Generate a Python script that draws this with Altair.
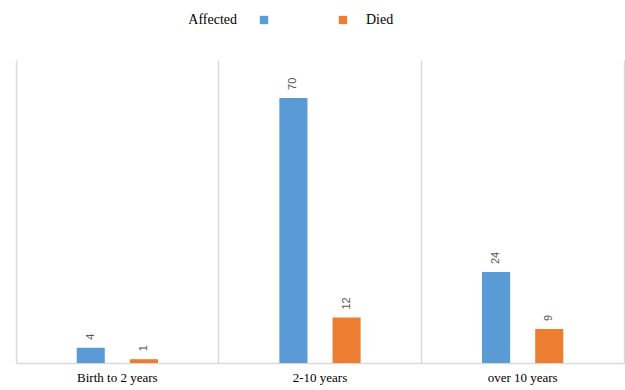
import altair as alt
import pandas as pd

# Age groups and the two counted series
categories = ["Birth to 2 years", "2-10 years", "over 10 years"]
series = ["Affected", "Died"]
affected = [4, 70, 24]
died = [1, 12, 9]

rows = []
for cat, a, d in zip(categories, affected, died):
    rows.append({"category": cat, "series": "Affected", "value": a})
    rows.append({"category": cat, "series": "Died", "value": d})
df = pd.DataFrame(rows)

blue = "#5b9bd5"
orange = "#ed7d31"
line_gray = "#d9d9d9"
serif = "Liberation Serif"

x_enc = alt.X(
    "category:N",
    sort=categories,
    scale=alt.Scale(paddingInner=0, paddingOuter=0),
    axis=alt.Axis(
        title=None,
        labelAngle=0,
        ticks=False,
        grid=True,
        gridColor=line_gray,
        gridWidth=1.5,
        bandPosition=0,
        domainColor=line_gray,
        domainWidth=1.5,
        labelFont=serif,
        labelFontSize=13,
        labelColor="#000000",
        labelPadding=8,
    ),
)
# empty slots on either side keep the pair of bars near the middle of each group
xoff_enc = alt.XOffset(
    "series:N",
    scale=alt.Scale(
        domain=["lead"] + series + ["trail"],
        paddingInner=0.4717,
        paddingOuter=0.141,
    ),
)
y_enc = alt.Y(
    "value:Q",
    scale=alt.Scale(domain=[0, 80]),
    axis=alt.Axis(
        orient="right",
        title=None,
        labels=False,
        ticks=False,
        grid=False,
        domainColor=line_gray,
        domainWidth=1.5,
    ),
)


def legend_for(x, label_offset, label_align):
    return alt.Legend(
        title=None,
        orient="none",
        legendX=x,
        legendY=-47,
        direction="horizontal",
        symbolType="square",
        symbolSize=70,
        symbolStrokeWidth=0,
        labelFont=serif,
        labelFontSize=14,
        labelColor="#000000",
        labelOffset={"expr": str(label_offset)},
        labelAlign=label_align,
    )


# one bar layer per series, each with its own colour key
affected_bars = (
    alt.Chart(df)
    .transform_filter(alt.datum.series == "Affected")
    .mark_bar()
    .encode(
        x=x_enc,
        xOffset=xoff_enc,
        y=y_enc,
        color=alt.Color(
            "series:N",
            scale=alt.Scale(domain=["Affected"], range=[blue]),
            legend=legend_for(241, -34, "right"),
        ),
    )
)
died_bars = (
    alt.Chart(df)
    .transform_filter(alt.datum.series == "Died")
    .mark_bar()
    .encode(
        x=x_enc,
        xOffset=xoff_enc,
        y=y_enc,
        color=alt.Color(
            "series:N",
            scale=alt.Scale(domain=["Died"], range=[orange]),
            legend=legend_for(320, 16, "left"),
        ),
    )
)

labels = alt.Chart(df).mark_text(
    angle=270,
    align="left",
    baseline="middle",
    dx=8,
    font="Liberation Sans",
    fontSize=11,
    color="#595959",
).encode(
    x=x_enc,
    xOffset=xoff_enc,
    y=y_enc,
    text="value:Q",
)

chart = (
    alt.layer(affected_bars, died_bars, labels)
    .resolve_scale(color="independent")
    .properties(
        width=608,
        height=303,
        autosize=alt.AutoSizeParams(type="none"),
        padding={"left": 16, "top": 60, "right": 1, "bottom": 27},
    )
    .configure_view(stroke=None)
)

chart.save("out.html", embed_options={"renderer": "svg", "actions": False})
